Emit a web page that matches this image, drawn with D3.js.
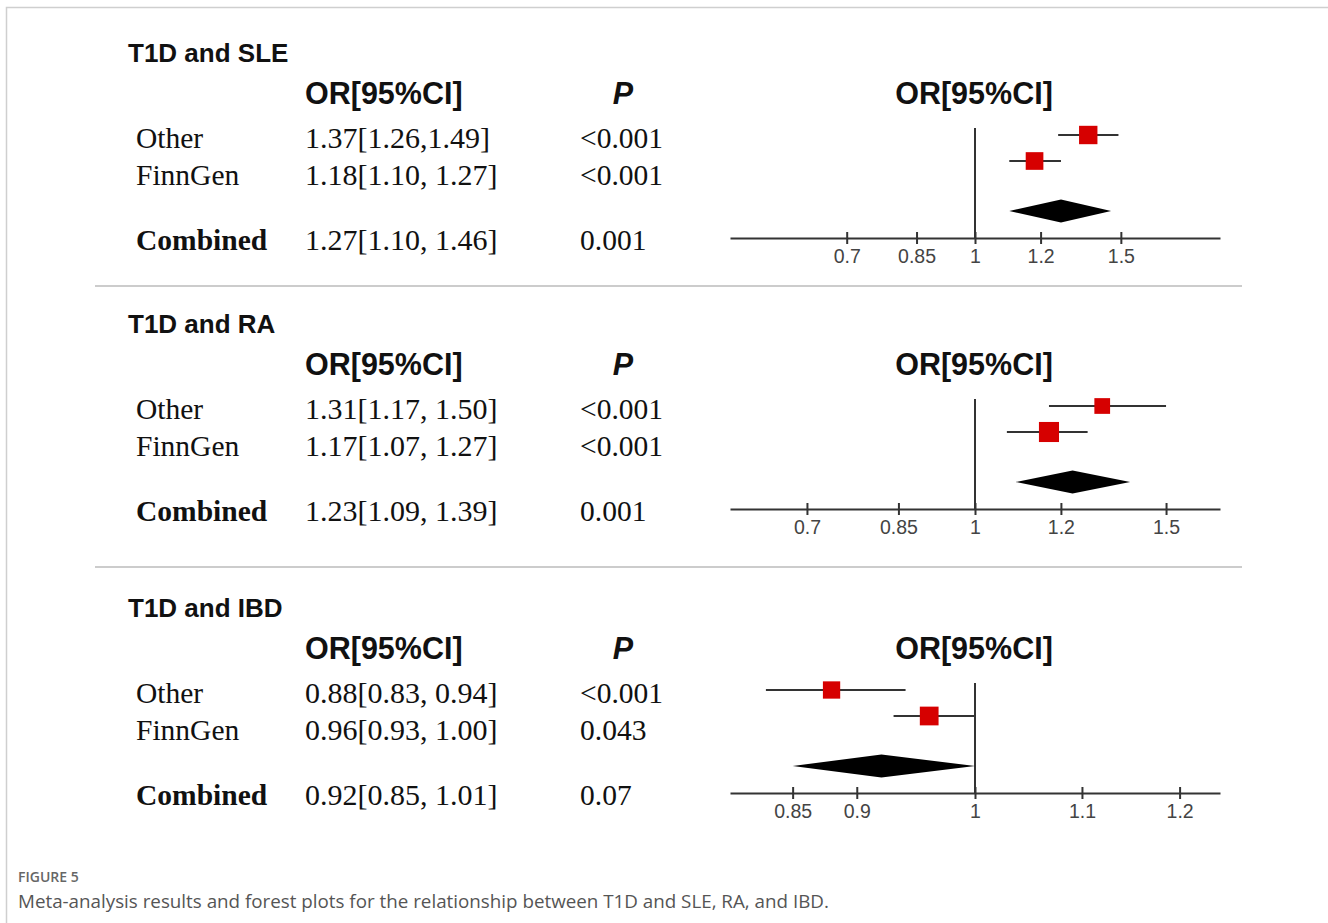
<!DOCTYPE html>
<html>
<head>
<meta charset="utf-8">
<script src="https://cdn.jsdelivr.net/npm/d3@7"></script>
<style>
  body { margin: 0; background: #fff; }
  svg { display: block; }
</style>
</head>
<body>
<script>
// forest plots, one panel per disease pair
const width = 1328, height = 923;

const panelTitles = ["T1D and SLE", "T1D and RA", "T1D and IBD"];
const rowLabels = ["Other", "FinnGen", "Combined"];
const orText = [
  ["1.37[1.26,1.49]", "1.18[1.10, 1.27]", "1.27[1.10, 1.46]"],
  ["1.31[1.17, 1.50]", "1.17[1.07, 1.27]", "1.23[1.09, 1.39]"],
  ["0.88[0.83, 0.94]", "0.96[0.93, 1.00]", "0.92[0.85, 1.01]"]
];
const pText = [
  ["<0.001", "<0.001", "0.001"],
  ["<0.001", "<0.001", "0.001"],
  ["<0.001", "0.043", "0.07"]
];
// plotted values (row 0 = Other, 1 = FinnGen, 2 = Combined)
const orEst  = [[1.37, 1.18, 1.27], [1.31, 1.17, 1.23], [0.88, 0.96, 0.92]];
const orLow  = [[1.26, 1.10, 1.10], [1.17, 1.07, 1.09], [0.83, 0.93, 0.85]];
const orHigh = [[1.49, 1.27, 1.46], [1.50, 1.27, 1.39], [0.94, 1.00, 1.00]];
const studyWeight = [[52, 48], [38, 62], [46, 54]];   // % weight -> square size
const tickValues = [
  [0.7, 0.85, 1, 1.2, 1.5],
  [0.7, 0.85, 1, 1.2, 1.5],
  [0.85, 0.9, 1, 1.1, 1.2]
];
const axisMax = [1.976, 1.682, 1.244];  // log axis runs 1/max .. max

const svg = d3.select("body").append("svg")
    .attr("width", width)
    .attr("height", height);

// page frame
svg.append("path")
    .attr("d", "M6.5,923 V7.5 H1328")
    .attr("fill", "none")
    .attr("stroke", "#cfcfcf")
    .attr("stroke-width", 1.5);

const panelTop = [0, 271, 555];
const separators = [286, 567];

svg.selectAll(".sep")
  .data(separators)
  .enter().append("line")
    .attr("class", "sep")
    .attr("x1", 95).attr("x2", 1242)
    .attr("y1", d => d).attr("y2", d => d)
    .attr("stroke", "#cccccc")
    .attr("stroke-width", 2);

const sizeScale = d3.scaleSqrt().domain([0, 100]).range([0, 25.5]);
const serif = "'Liberation Serif', 'Times New Roman', serif";
const sans = "'Liberation Sans', Arial, Helvetica, sans-serif";

panelTitles.forEach(function(title, i) {
  const g = svg.append("g").attr("transform", "translate(0," + panelTop[i] + ")");

  g.append("text")
      .attr("x", 128).attr("y", 62)
      .style("font-family", sans).style("font-size", "26px")
      .style("font-weight", "bold").style("fill", "#111")
      .text(title);

  // column headers
  g.append("text").attr("x", 305).attr("y", 104)
      .style("font-family", sans).style("font-size", "30.5px")
      .style("font-weight", "bold").style("fill", "#111")
      .text("OR[95%CI]");
  g.append("text").attr("x", 623).attr("y", 104)
      .attr("text-anchor", "middle")
      .style("font-family", sans).style("font-size", "30.5px")
      .style("font-weight", "bold").style("font-style", "italic").style("fill", "#111")
      .text("P");
  g.append("text").attr("x", 974).attr("y", 104)
      .attr("text-anchor", "middle")
      .style("font-family", sans).style("font-size", "30.5px")
      .style("font-weight", "bold").style("fill", "#111")
      .text("OR[95%CI]");

  // table rows
  const rowY = [148, 185, 250];
  rowLabels.forEach(function(lab, r) {
    g.append("text").attr("x", 136).attr("y", rowY[r])
        .style("font-family", serif).style("font-size", "29.5px")
        .style("font-weight", r === 2 ? "bold" : "normal").style("fill", "#111")
        .text(lab);
    g.append("text").attr("x", 305).attr("y", rowY[r])
        .style("font-family", serif).style("font-size", "30px").style("fill", "#111")
        .text(orText[i][r]);
    g.append("text").attr("x", 580).attr("y", rowY[r])
        .style("font-family", serif).style("font-size", "29.5px").style("fill", "#111")
        .text(pText[i][r]);
  });

  // forest plot
  const x = d3.scaleLog()
      .domain([1 / axisMax[i], axisMax[i]])
      .range([730, 1220]);
  const markY = [135, 161, 211];
  const axisY = 238;

  g.append("line")
      .attr("x1", x(1)).attr("x2", x(1))
      .attr("y1", 128).attr("y2", axisY)
      .attr("stroke", "#333").attr("stroke-width", 2);

  const studies = [0, 1];
  g.selectAll(".ci")
    .data(studies)
    .enter().append("line")
      .attr("class", "ci")
      .attr("x1", r => x(orLow[i][r])).attr("x2", r => x(orHigh[i][r]))
      .attr("y1", r => markY[r]).attr("y2", r => markY[r])
      .attr("stroke", "#333").attr("stroke-width", 2);

  g.selectAll(".dot")
    .data(studies)
    .enter().append("rect")
      .attr("class", "dot")
      .attr("x", r => x(orEst[i][r]) - sizeScale(studyWeight[i][r]) / 2)
      .attr("y", r => markY[r] - sizeScale(studyWeight[i][r]) / 2)
      .attr("width", r => sizeScale(studyWeight[i][r]))
      .attr("height", r => sizeScale(studyWeight[i][r]))
      .attr("fill", "#d60000");

  const dy = markY[2], half = 11.5;
  g.append("path")
      .attr("d", "M" + x(orLow[i][2]) + "," + dy +
                 "L" + x(orEst[i][2]) + "," + (dy - half) +
                 "L" + x(orHigh[i][2]) + "," + dy +
                 "L" + x(orEst[i][2]) + "," + (dy + half) + "Z")
      .attr("fill", "#000");

  const axis = g.append("g")
      .attr("transform", "translate(0," + axisY + ")")
      .call(d3.axisBottom(x)
        .tickValues(tickValues[i])
        .tickFormat(d => String(d))
        .tickSizeOuter(0)
        .tickSizeInner(6));
  axis.select(".domain").attr("stroke", "#333").attr("stroke-width", 2);
  axis.selectAll(".tick line")
      .attr("y1", -6).attr("y2", 6)
      .attr("stroke", "#333").attr("stroke-width", 2);
  axis.selectAll(".tick text")
      .attr("y", 11)
      .style("font-family", sans).style("font-size", "19.5px").style("fill", "#444");
});

// caption
svg.append("text").attr("x", 18).attr("y", 882)
    .style("font-family", "'Open Sans', sans-serif").style("font-size", "14px")
    .style("font-weight", "600").style("fill", "#666")
    .text("FIGURE 5");
svg.append("text").attr("x", 18).attr("y", 908)
    .style("font-family", "'Open Sans', sans-serif").style("font-size", "18.8px")
    .style("fill", "#555")
    .text("Meta-analysis results and forest plots for the relationship between T1D and SLE, RA, and IBD.");
</script>
</body>
</html>
